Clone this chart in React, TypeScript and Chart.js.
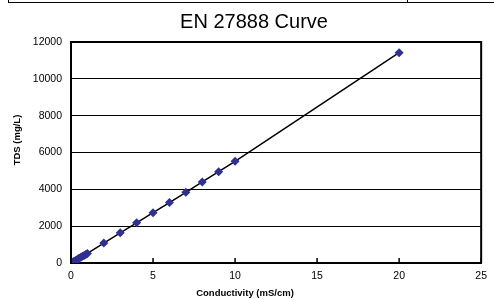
import React, { useEffect, useRef } from "react";
import { Chart, registerables } from "chart.js";

Chart.register(...registerables);

const chartTitle = "EN 27888 Curve";
const xTitle = "Conductivity (mS/cm)";
const yTitle = "TDS (mg/L)";

const conductivity = [0.084, 0.147, 0.2, 0.3, 0.4, 0.447, 0.5, 0.6, 0.7, 0.8, 0.9, 1.0, 2, 3, 4, 5, 6, 7, 8, 9, 10, 20];
const tds = [40, 72, 100, 150, 204, 226, 255, 307, 360, 412, 465, 520, 1080, 1640, 2180, 2730, 3280, 3840, 4400, 4960, 5520, 11420];

const xTicks = [0, 5, 10, 15, 20, 25];
const yTicks = [0, 2000, 4000, 6000, 8000, 10000, 12000];

const FONT = "'Liberation Sans', Arial, sans-serif";

export default function App() {
  const ref = useRef<HTMLCanvasElement>(null);

  useEffect(() => {
    if (!ref.current) return;
    const decor = {
      id: "decor",
      afterDraw(chart: any) {
        const { ctx, chartArea: a, scales } = chart;
        ctx.save();
        ctx.strokeStyle = "#000";
        ctx.lineWidth = 2;
        ctx.beginPath();
        ctx.moveTo(a.left, a.top);
        ctx.lineTo(a.right, a.top);
        ctx.lineTo(a.right, a.bottom);
        ctx.stroke();
        ctx.lineWidth = 1.5;
        ctx.beginPath();
        for (const v of xTicks) {
          const px = scales.x.getPixelForValue(v);
          ctx.moveTo(px, a.bottom);
          ctx.lineTo(px, a.bottom - 5);
        }
        ctx.stroke();
        ctx.fillStyle = "#000";
        ctx.textAlign = "center";
        ctx.textBaseline = "middle";
        ctx.font = `20px ${FONT}`;
        ctx.fillText(chartTitle, 254, 22);
        ctx.font = `bold 9.5px ${FONT}`;
        ctx.fillText(xTitle, 245, 293);
        ctx.translate(17, 140);
        ctx.rotate(-Math.PI / 2);
        ctx.fillText(yTitle, 0, 0);
        ctx.restore();
      },
    };

    const chart = new Chart(ref.current, {
      type: "scatter",
      data: {
        datasets: [
          {
            data: conductivity.map((c, i) => ({ x: c, y: tds[i] })),
            showLine: true,
            borderColor: "#000",
            borderWidth: 1.5,
            pointStyle: "rectRot",
            pointRadius: 4.5,
            pointBackgroundColor: "#2E3192",
            pointBorderColor: "#2E3192",
            pointBorderWidth: 0,
          },
        ],
      },
      options: {
        responsive: false,
        animation: false,
        layout: { padding: { top: 42, right: 8, left: 0, bottom: 0 } },
        plugins: {
          legend: { display: false },
          title: { display: false },
          tooltip: { enabled: false },
        },
        scales: {
          x: {
            type: "linear",
            min: 0,
            max: 25,
            afterBuildTicks: (s: any) => {
              s.ticks = xTicks.map((v) => ({ value: v }));
            },
            afterFit: (s: any) => {
              s.height = 36;
            },
            grid: { display: false, drawTicks: false },
            border: { display: true, color: "#000", width: 2 },
            ticks: {
              color: "#000",
              font: { family: FONT, size: 10.5 },
              padding: 7,
              maxRotation: 0,
              callback: (v: any) => String(v),
            },
          },
          y: {
            type: "linear",
            min: 0,
            max: 12000,
            afterBuildTicks: (s: any) => {
              s.ticks = yTicks.map((v) => ({ value: v }));
            },
            afterFit: (s: any) => {
              s.width = 71;
            },
            grid: { color: "#000", lineWidth: 1, drawTicks: false },
            border: { display: true, color: "#000", width: 2 },
            ticks: {
              color: "#000",
              font: { family: FONT, size: 10.5 },
              padding: 9,
              callback: (v: any) => String(v),
            },
          },
        },
      },
      plugins: [decor],
    });
    return () => chart.destroy();
  }, []);

  return (
    <div style={{ position: "absolute", left: 0, top: 0, width: 494, height: 299, background: "#fff" }}>
      <div style={{ position: "absolute", left: 8, top: 2, width: 486, height: 1, background: "#000" }} />
      <div style={{ position: "absolute", left: 8, top: 0, width: 1, height: 3, background: "#000" }} />
      <div style={{ position: "absolute", left: 407, top: 0, width: 1, height: 3, background: "#000" }} />
      <canvas ref={ref} width={494} height={299} style={{ position: "absolute", left: 0, top: 0 }} />
    </div>
  );
}
